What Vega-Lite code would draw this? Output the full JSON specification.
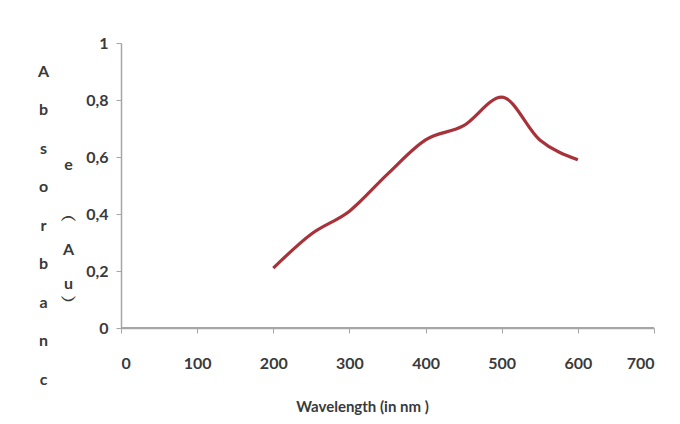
{
  "$schema": "https://vega.github.io/schema/vega-lite/v6.json",
  "width": 533,
  "height": 285,
  "autosize": {"type": "none"},
  "padding": {"left": 121, "top": 43, "right": 26, "bottom": 96},
  "background": "white",
  "config": {
    "view": {"stroke": null},
    "font": "Lato",
    "axis": {
      "grid": false,
      "domainColor": "#a6a6a6",
      "domainWidth": 1.5,
      "tickColor": "#a6a6a6",
      "tickSize": 5,
      "labelFont": "Lato",
      "labelFontSize": 16,
      "labelFontWeight": "bold",
      "labelColor": "#3a3a3a",
      "titleFont": "Lato",
      "titleFontSize": 16,
      "titleFontWeight": "bold",
      "titleColor": "#3a3a3a"
    }
  },
  "data": {
    "values": [
      {"wavelength": 200, "absorbance": 0.21},
      {"wavelength": 250, "absorbance": 0.33},
      {"wavelength": 300, "absorbance": 0.41},
      {"wavelength": 350, "absorbance": 0.54},
      {"wavelength": 400, "absorbance": 0.66},
      {"wavelength": 450, "absorbance": 0.71},
      {"wavelength": 500, "absorbance": 0.81},
      {"wavelength": 550, "absorbance": 0.66},
      {"wavelength": 600, "absorbance": 0.59}
    ]
  },
  "layer": [
    {
      "mark": {"type": "line", "color": "#a8323a", "strokeWidth": 3.2, "interpolate": "monotone"},
      "encoding": {
        "x": {
          "field": "wavelength",
          "type": "quantitative",
          "scale": {"domain": [0, 700], "nice": false},
          "axis": {
            "values": [0, 100, 200, 300, 400, 500, 600, 700],
            "title": "Wavelength (in nm )",
            "labelPadding": 22,
            "titleFontSize": 15,
            "titleX": 241,
            "titleY": 71,
            "titleAnchor": null
          }
        },
        "y": {
          "field": "absorbance",
          "type": "quantitative",
          "scale": {"domain": [0, 1], "nice": false},
          "axis": {
            "values": [0, 0.2, 0.4, 0.6, 0.8, 1],
            "labelExpr": "replace(format(datum.value, '~g'), '.', ',')",
            "labelPadding": 8,
            "title": ["A", "b", "s", "o", "r", "b", "a", "n", "c"],
            "titleAngle": 0,
            "titleAlign": "center",
            "titleBaseline": "top",
            "titleLineHeight": 38.5,
            "titleX": -78,
            "titleY": 20
          }
        }
      }
    },
    {
      "mark": {"type": "rule", "color": "#a6a6a6", "strokeWidth": 1.5},
      "encoding": {
        "y": {
          "datum": 0,
          "type": "quantitative",
          "scale": {"domain": [0, 1], "nice": false},
          "axis": {
            "orient": "right",
            "domain": false,
            "ticks": false,
            "labels": false,
            "title": ["e", "\u2800", "\u2800", "︵", "\u2800", "A", "\u2800", "u", "︶"],
            "titleAngle": 0,
            "titleAlign": "center",
            "titleBaseline": "top",
            "titleLineHeight": 17,
            "titleX": -586,
            "titleY": 113
          }
        }
      }
    }
  ],
  "resolve": {"scale": {"y": "independent"}}
}
